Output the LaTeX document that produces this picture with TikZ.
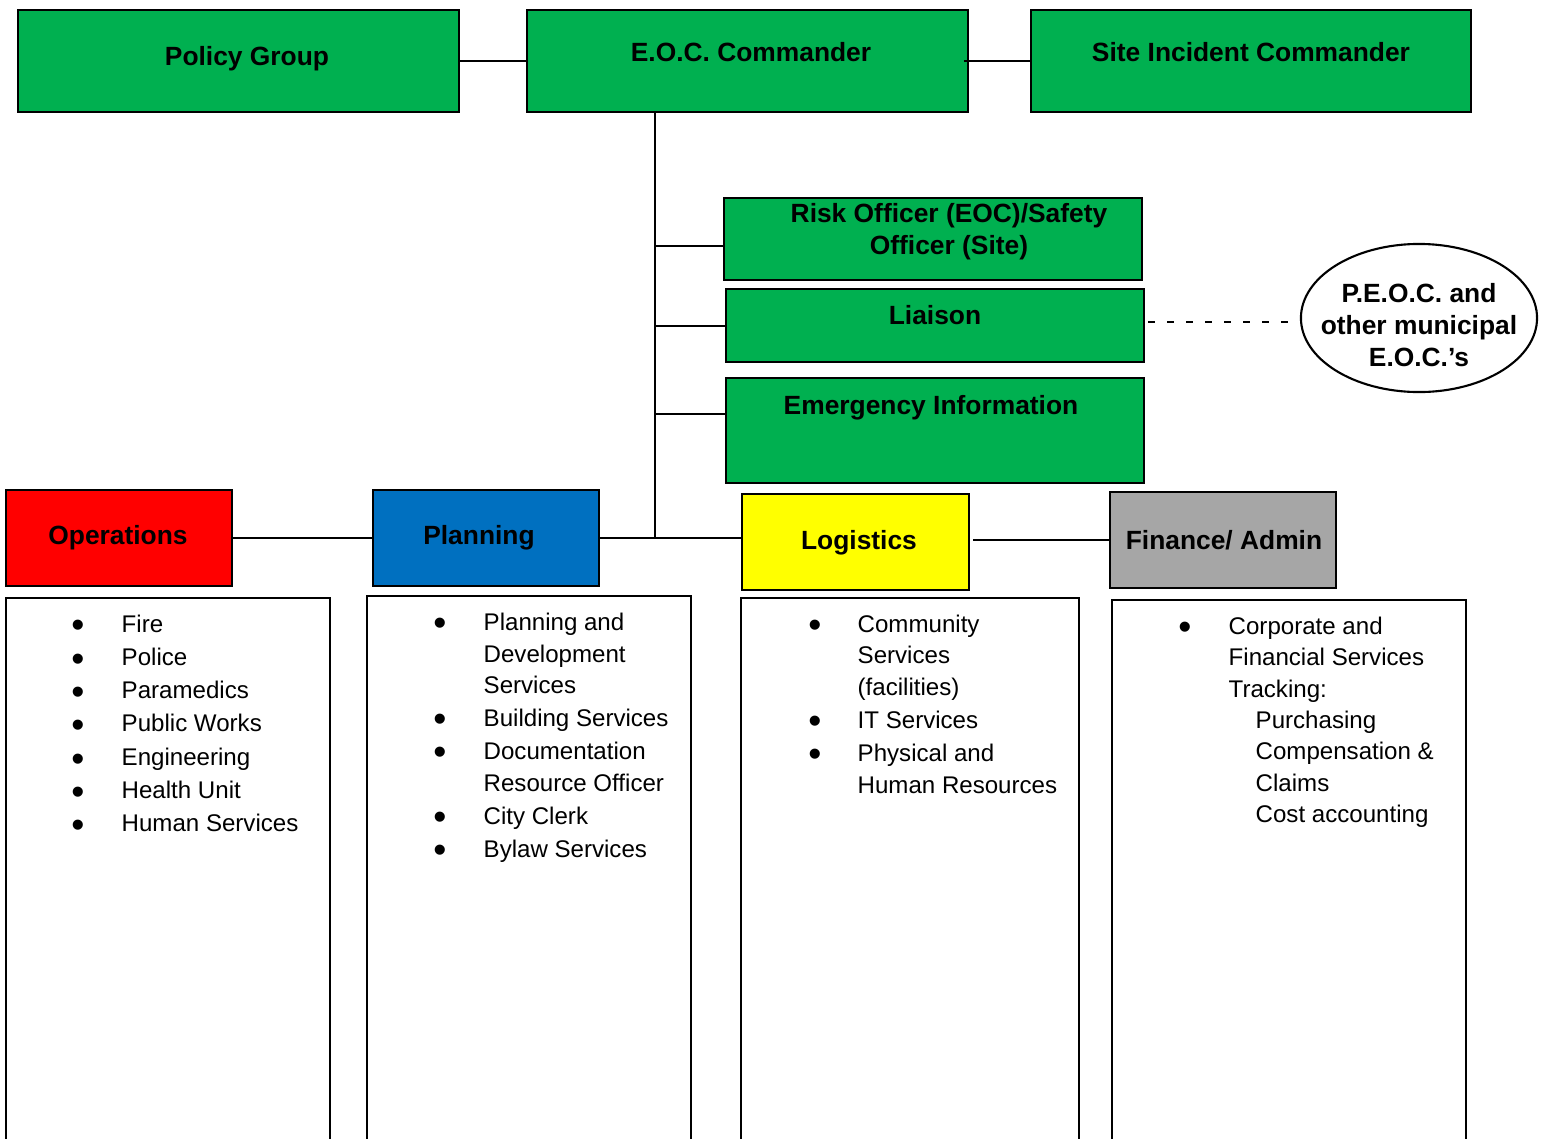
\documentclass[tikz,border=0pt]{standalone}
\usepackage{fontspec}
\setmainfont{Liberation Sans}
\usetikzlibrary{shapes.geometric}

\definecolor{eocgreen}{HTML}{00B050}
\definecolor{opsred}{HTML}{FF0000}
\definecolor{planblue}{HTML}{0070C0}
\definecolor{logyellow}{HTML}{FFFF00}
\definecolor{fingray}{HTML}{A6A6A6}

\newcommand{\headfont}{\fontsize{7.5pt}{9.1pt}\selectfont\bfseries}
\newcommand{\listfont}{\fontsize{6.85pt}{8.2pt}\selectfont}
\newcommand{\dotfont}{\fontsize{10.6pt}{12pt}\selectfont}

\tikzset{
  unitbox/.style={draw=black, line width=0.6pt, rectangle, anchor=north west, inner sep=0pt},
  headtext/.style={font=\headfont, inner sep=0pt, anchor=base},
  headlines/.style={font=\headfont, inner sep=0pt, align=center},
  listbox/.style={draw=black, line width=0.5pt, rectangle, anchor=north west, inner sep=0pt},
  itemtext/.style={font=\listfont, inner sep=0pt, anchor=base west},
  bullettext/.style={font=\dotfont, inner sep=0pt, anchor=center, yshift=0.03cm},
  link/.style={line width=0.6pt},
}

\begin{document}
\begin{tikzpicture}[x=0.01cm, y=-0.01cm]
\useasboundingbox (0,0) rectangle (1544,1139);
\clip (0,0) rectangle (1544,1139);

% Top row
\node[unitbox, fill=eocgreen, minimum width=4.41cm, minimum height=1.02cm] (policy) at (17,9) {};
\node[headtext] (policy-txt) at (247,65) {Policy Group};
\node[unitbox, fill=eocgreen, minimum width=4.41cm, minimum height=1.02cm] (eoc) at (526,9) {};
\node[headtext] (eoc-txt) at (751,61) {E.O.C. Commander};
\node[unitbox, fill=eocgreen, minimum width=4.40cm, minimum height=1.02cm] (site) at (1030,9) {};
\node[headtext] (site-txt) at (1251,61) {Site Incident Commander};

% Command staff
\node[unitbox, fill=eocgreen, minimum width=4.18cm, minimum height=0.82cm] (risk) at (723,197) {};
\node[headlines] (risk-txt) at (949,232) {Risk Officer (EOC)/Safety\\Officer (Site)};
\node[unitbox, fill=eocgreen, minimum width=4.18cm, minimum height=0.73cm] (liaison) at (725,288) {};
\node[headtext] (liaison-txt) at (935,324) {Liaison};
\node[unitbox, fill=eocgreen, minimum width=4.18cm, minimum height=1.05cm] (emerg) at (725,377) {};
\node[headtext] (emerg-txt) at (931,414) {Emergency Information};

% Outside E.O.C.s
\node[ellipse, draw=black, line width=0.6pt, fill=white, minimum width=2.36cm, minimum height=1.48cm, inner sep=0pt] (peoc) at (1419,318) {};
\node[headlines] (peoc-txt) at (1419,325) {P.E.O.C. and\\other municipal\\E.O.C.’s};

% General staff
\node[unitbox, fill=opsred, minimum width=2.26cm, minimum height=0.96cm] (ops) at (5,489) {};
\node[headtext] (ops-txt) at (118,544) {Operations};
\node[unitbox, fill=planblue, minimum width=2.26cm, minimum height=0.96cm] (plan) at (372,489) {};
\node[headtext] (plan-txt) at (479,544) {Planning};
\node[unitbox, fill=logyellow, minimum width=2.27cm, minimum height=0.96cm] (log) at (741,493) {};
\node[headtext] (log-txt) at (859,549) {Logistics};
\node[unitbox, fill=fingray, minimum width=2.26cm, minimum height=0.96cm] (fin) at (1109,491) {};
\node[headtext] (fin-txt) at (1224,549) {Finance/ Admin};

% Connectors
\coordinate (trunk) at (655,537);
\draw[link] (policy.east) -- (eoc.west);
\draw[link] ([xshift=-0.05cm]eoc.east) -- (site.west);
\draw[link] (eoc.south -| trunk) -- (trunk |- plan.east);
\draw[link] ([yshift=-0.07cm]risk.west -| trunk) -- ([yshift=-0.07cm]risk.west);
\draw[link] (liaison.west -| trunk) -- (liaison.west);
\draw[link] ([yshift=0.165cm]emerg.west -| trunk) -- ([yshift=0.165cm]emerg.west);
\draw[link] (ops.east) -- (plan.west);
\draw[link] (plan.east) -- (plan.east -| log.west);
\draw[link] ([xshift=0.03cm]fin.west -| log.east) -- (fin.west);
\draw[line width=0.75pt, dash pattern=on 2pt off 3.4pt] ([xshift=0.03cm, yshift=0.035cm]liaison.east) -- ([yshift=0.035cm]liaison.east -| peoc.west);

% List boxes, open at the foot of the page
\node[listbox, minimum width=3.24cm, minimum height=5.7cm] (ops-list) at (5,597) {};
\node[listbox, minimum width=3.24cm, minimum height=5.7cm] (plan-list) at (366,595) {};
\node[listbox, minimum width=3.38cm, minimum height=5.7cm] (log-list) at (740,597) {};
\node[listbox, minimum width=3.54cm, minimum height=5.7cm] (fin-list) at (1111,599) {};

% Operations list
\foreach \txt [count=\i] in {Fire, Police, Paramedics, Public Works, Engineering, Health Unit, Human Services}{
  \node[bullettext] (ops-b\i) at (78,{632+33.33*(\i-1)}) {\textbullet};
  \node[itemtext] (ops-\i) at (121,{632+33.33*(\i-1)}) {\txt};
}

% Planning list
\node[bullettext] (plan-b1) at (440,630) {\textbullet};
\node[itemtext] (plan-1) at (483,630) {Planning and};
\node[itemtext] (plan-2) at (483,662) {Development};
\node[itemtext] (plan-3) at (483,693) {Services};
\node[bullettext] (plan-b2) at (440,726) {\textbullet};
\node[itemtext] (plan-4) at (483,726) {Building Services};
\node[bullettext] (plan-b3) at (440,759) {\textbullet};
\node[itemtext] (plan-5) at (483,759) {Documentation};
\node[itemtext] (plan-6) at (483,791) {Resource Officer};
\node[bullettext] (plan-b4) at (440,824) {\textbullet};
\node[itemtext] (plan-7) at (483,824) {City Clerk};
\node[bullettext] (plan-b5) at (440,857) {\textbullet};
\node[itemtext] (plan-8) at (483,857) {Bylaw Services};

% Logistics list
\node[bullettext] (log-b1) at (815,632) {\textbullet};
\node[itemtext] (log-1) at (857,632) {Community};
\node[itemtext] (log-2) at (857,663) {Services};
\node[itemtext] (log-3) at (857,695) {(facilities)};
\node[bullettext] (log-b2) at (815,728) {\textbullet};
\node[itemtext] (log-4) at (857,728) {IT Services};
\node[bullettext] (log-b3) at (815,761) {\textbullet};
\node[itemtext] (log-5) at (857,761) {Physical and};
\node[itemtext] (log-6) at (857,793) {Human Resources};

% Finance list
\node[bullettext] (fin-b1) at (1185,634) {\textbullet};
\node[itemtext] (fin-1) at (1228,634) {Corporate and};
\node[itemtext] (fin-2) at (1228,665) {Financial Services};
\node[itemtext] (fin-3) at (1228,697) {Tracking:};
\node[itemtext] (fin-4) at (1255,728) {Purchasing};
\node[itemtext] (fin-5) at (1255,759) {Compensation \&};
\node[itemtext] (fin-6) at (1255,791) {Claims};
\node[itemtext] (fin-7) at (1255,822) {Cost accounting};
\end{tikzpicture}
\end{document}
